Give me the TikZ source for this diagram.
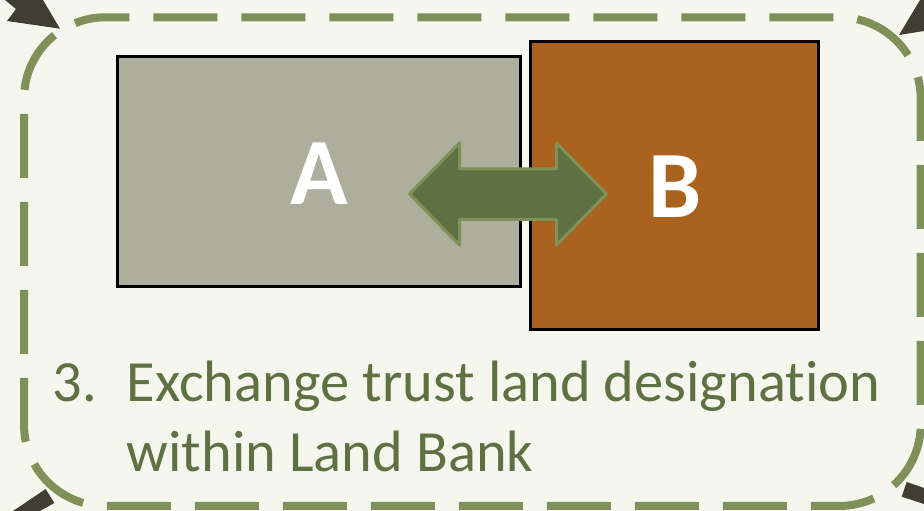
\documentclass[tikz,border=0pt]{standalone}
\usepackage{fontspec}
\setmainfont[Ligatures=NoCommon]{Carlito}
\definecolor{pagebg}{HTML}{F5F6EE}
\definecolor{dashgreen}{HTML}{7F9058}
\definecolor{deepgreen}{HTML}{5F7043}
\definecolor{greybox}{HTML}{ADAE9B}
\definecolor{rustbox}{HTML}{A9631E}
\definecolor{darkcorner}{HTML}{3F3E30}
\tikzset{
  landbox/.style={draw=black,line width=3pt,rectangle,inner sep=0pt},
  bigletter/.style={text=white,font=\fontsize{95}{95}\selectfont\bfseries,inner sep=0pt,anchor=base},
  caption/.style={text=deepgreen,font=\fontsize{58.4}{70}\selectfont,inner sep=0pt,anchor=base west},
  cornerpiece/.style={fill=darkcorner},
  frameline/.style={draw=dashgreen,line width=8pt,line cap=butt,dash pattern=on 64pt off 24pt,dash phase=40.2pt},
  swaparrow/.style={draw=dashgreen,fill=deepgreen,line width=3pt,line join=round}
}
\begin{document}
\begin{tikzpicture}[x=1pt,y=1pt]
\useasboundingbox (0,0) rectangle (924,511);
\clip (0,0) rectangle (924,511);
\fill[pagebg] (0,0) rectangle (924,511);
% corner pieces
\fill[cornerpiece] (60,482.3) -- (7,490) -- (16,502) -- (5,511) -- (43,511) -- cycle;
\fill[cornerpiece] (899,476) -- (924,480) -- (924,511) -- (920,511) -- cycle;
\fill[cornerpiece] (45.7,22) -- (54.3,8) -- (40,0) -- (13,0) -- cycle;
\fill[cornerpiece] (906.7,29) -- (901.7,14.3) -- (924,7) -- (924,23) -- cycle;
% dashed frame
\draw[frameline] (105.5,493.7) -- (839.2,493.7)
  arc[start angle=90,end angle=0,radius=81.5pt] -- (920.7,86.5)
  arc[start angle=0,end angle=-90,radius=81.5pt] -- (105.5,5)
  arc[start angle=-90,end angle=-180,radius=81.5pt] -- (24,412.2)
  arc[start angle=180,end angle=90,radius=81.5pt] -- cycle;
% boxes
\node[landbox,fill=greybox,minimum width=403.5pt,minimum height=230.3pt] (boxa) at (319.2,339.15) {};
\node[landbox,fill=rustbox,minimum width=287.5pt,minimum height=288pt] (boxb) at (674.25,325) {};
% double arrow
\draw[swaparrow] (409.5,317) -- (459.5,368) -- (459.5,342) -- (556.5,342) -- (556.5,368)
  -- (606.5,317) -- (556.5,266) -- (556.5,291.5) -- (459.5,291.5) -- (459.5,266) -- cycle;
% letters
\node[bigletter] (la) at (319.5,306) {A};
\node[bigletter] (lb) at (675,293) {B};
% caption
\node[caption] (num) at (52.5,109.3) {3.};
\node[caption] (line1) at (126.5,109.3) {Exchange trust land designation};
\node[caption] (line2) at (126.5,39.3) {within Land Bank};
\end{tikzpicture}
\end{document}
